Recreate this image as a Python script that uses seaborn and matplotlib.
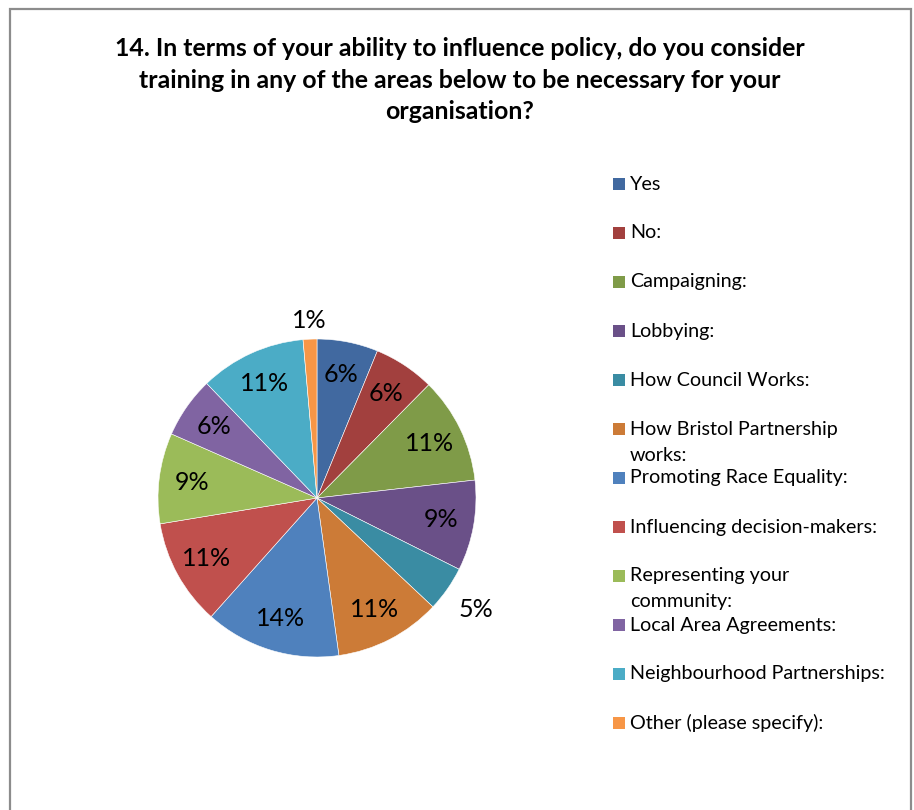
import numpy as np
import matplotlib
matplotlib.use("Agg")
import matplotlib.pyplot as plt
import seaborn as sns
from matplotlib.patches import Rectangle

categories = ["Yes", "No:", "Campaigning:", "Lobbying:", "How Council Works:",
              "How Bristol Partnership\nworks:", "Promoting Race Equality:",
              "Influencing decision-makers:", "Representing your\ncommunity:",
              "Local Area Agreements:", "Neighbourhood Partnerships:",
              "Other (please specify):"]
shares = [6.2, 6.2, 10.8, 9.2, 4.6, 10.8, 13.8, 10.8, 9.2, 6.2, 10.8, 1.4]
colors = ["#4169A0", "#A2403E", "#7F9B48", "#6A5088", "#3A8CA3", "#CC7B37",
          "#4F81BD", "#C0504D", "#9BBB59", "#8064A2", "#4BACC6", "#F79646"]
title = ("14. In terms of your ability to influence policy, do you consider\n"
         "training in any of the areas below to be necessary for your\norganisation?")

sns.set_theme(style="white")
plt.rcParams['font.family'] = ['Lato', 'DejaVu Sans']

W, H = 914, 810
fig = plt.figure(figsize=(W / 100, H / 100), dpi=100)
fig.patch.set_facecolor("white")

# outer frame
fig.add_artist(Rectangle((10 / W, -0.05), 901 / W, 1 - 9 / H + 0.05,
                         transform=fig.transFigure, fill=False,
                         edgecolor="#8C8C8C", linewidth=1.6))

fig.text(460 / W, 1 - 80 / H, title, ha="center", va="center",
         fontsize=17.9, fontweight="bold", linespacing=1.46, color="black")

cx, cy, r = 317, 498, 159
ax = fig.add_axes([(cx - r) / W, (H - cy - r) / H, 2 * r / W, 2 * r / H])
total = sum(shares)
wedges, _ = ax.pie(shares, colors=colors, startangle=90, counterclock=False,
                   radius=1, wedgeprops=dict(edgecolor="white", linewidth=0.4))
ax.set_xlim(-1, 1)
ax.set_ylim(-1, 1)
ax.set_aspect("auto")
ax.axis("off")

for w, c in zip(wedges, shares):
    pct = 100 * c / total
    mid = np.deg2rad((w.theta1 + w.theta2) / 2)
    if pct < 2:
        d = 1.12
    elif pct < 5:
        d = 1.22
    else:
        d = 0.79
    ax.text(d * np.cos(mid), d * np.sin(mid), f"{pct:.0f}%", ha="center",
            va="center", fontsize=18, color="black")

# legend
lx, ly0, step, wrap = 613, 184, 49, 26
for i, (lab, col) in enumerate(zip(categories, colors)):
    y = ly0 + i * step
    fig.add_artist(Rectangle((lx / W, 1 - (y + 6) / H), 12 / W, 12 / H,
                             transform=fig.transFigure, facecolor=col,
                             edgecolor="none"))
    for j, line in enumerate(lab.split("\n")):
        fig.text(630 / W, 1 - (y + j * wrap) / H, line, ha="left",
                 va="center", fontsize=14.2, color="black")

fig.savefig("out.png", dpi=100, facecolor="white")
